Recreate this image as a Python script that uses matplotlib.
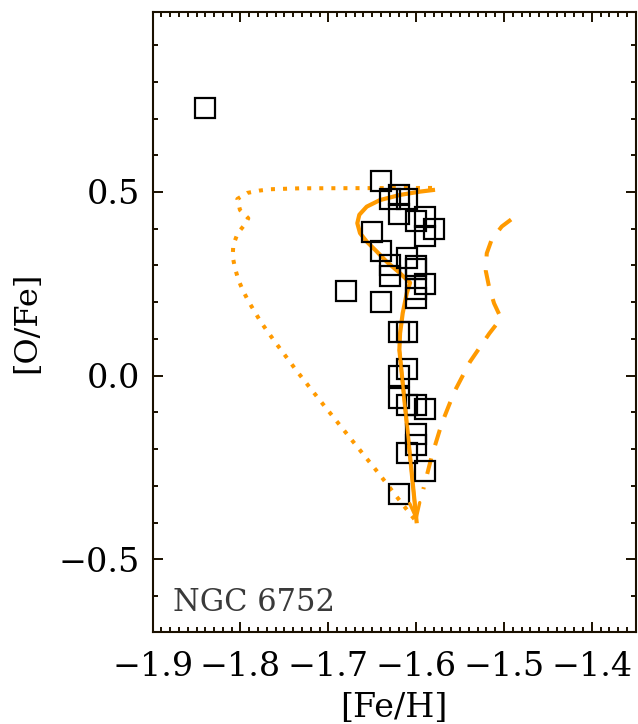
import numpy as np
import matplotlib
matplotlib.use('Agg')
import matplotlib.pyplot as plt
from matplotlib.ticker import MultipleLocator

# observed stars, NGC 6752
feh_obs = [-1.840, -1.640, -1.630, -1.620, -1.610, -1.620, -1.600, -1.590, -1.580,
           -1.590, -1.650, -1.640, -1.630, -1.630, -1.610, -1.600, -1.600, -1.590,
           -1.600, -1.600, -1.680, -1.640, -1.620, -1.610, -1.610, -1.620, -1.620,
           -1.610, -1.600, -1.590, -1.600, -1.600, -1.610, -1.590, -1.620]
ofe_obs = [0.730, 0.530, 0.481, 0.491, 0.481, 0.439, 0.420, 0.431, 0.399,
           0.380, 0.390, 0.340, 0.300, 0.270, 0.320, 0.299, 0.289, 0.250,
           0.236, 0.211, 0.230, 0.200, 0.120, 0.120, 0.019, 0.000, -0.060,
           -0.081, -0.080, -0.090, -0.160, -0.190, -0.211, -0.260, -0.321]

# model tracks
feh_solid = [-1.5785, -1.5956, -1.6184, -1.6412, -1.6563, -1.6647, -1.6670, -1.6639,
             -1.6563, -1.6449, -1.6335, -1.6203, -1.6069, -1.6107, -1.6153, -1.6183,
             -1.6191, -1.5993]
ofe_solid = [0.506, 0.501, 0.492, 0.478, 0.460, 0.438, 0.415, 0.388,
             0.365, 0.338, 0.310, 0.283, 0.253, 0.224, 0.170, 0.115,
             0.070, -0.402]

feh_dot = [-1.5819, -1.7322, -1.7656, -1.7789, -1.7923, -1.8036, -1.8006, -1.7911,
           -1.7949, -1.8032, -1.8082, -1.8089, -1.8063, -1.8025, -1.7972, -1.7907,
           -1.7767, -1.7607, -1.7360, -1.7106, -1.6764, -1.6419, -1.6164, -1.5993]
ofe_dot = [0.511, 0.510, 0.5075, 0.5037, 0.4974, 0.481, 0.451, 0.4285,
           0.412, 0.3877, 0.3558, 0.324, 0.2932, 0.2614, 0.2314, 0.2015,
           0.1454, 0.0918, 0.0128, -0.0643, -0.1661, -0.2684, -0.3474, -0.3991]

feh_dash = [-1.4919, -1.5025, -1.5139, -1.5196, -1.5207, -1.5170, -1.5113, -1.5033,
            -1.5166, -1.5386, -1.5565, -1.5708, -1.5822, -1.5918]
ofe_dash = [0.425, 0.406, 0.371, 0.333, 0.285, 0.242, 0.197, 0.156,
            0.115, 0.038, -0.044, -0.130, -0.219, -0.309]

orange = '#ff9a00'
dark = '#1a1000'

plt.rcParams['font.family'] = ['DejaVu Serif']
plt.rcParams['mathtext.fontset'] = 'dejavuserif'

fig = plt.figure(figsize=(6.38, 7.24), dpi=100)
ax = fig.add_axes([0.2393, 0.1271, 0.9964 - 0.2393, 0.9834 - 0.1271])

ax.plot(feh_dot, ofe_dot, color=orange, lw=2.9, dashes=(1, 2))
ax.plot(feh_dash, ofe_dash, color=orange, lw=2.9, dashes=(4.0, 3.4))
ax.plot(feh_solid, ofe_solid, color=orange, lw=3.0, solid_capstyle='butt')
# small open arrowhead at the end of the solid track
ax.annotate('', xy=(feh_solid[-1], ofe_solid[-1]), xytext=(feh_solid[-2], ofe_solid[-2]),
            arrowprops=dict(arrowstyle='->,head_length=0.6,head_width=0.2',
                            color=orange, lw=2.4, shrinkA=0, shrinkB=0,
                            mutation_scale=18))

ax.plot(feh_obs, ofe_obs, ls='none', marker='s', ms=14, mfc='none',
        mec='black', mew=1.6)

ax.text(-1.877, -0.64, 'NGC 6752', fontsize=22, color='#3a3a3a', va='baseline')

ax.set_xlim(-1.9, -1.35)
ax.set_ylim(-0.698, 0.99)
ax.xaxis.set_major_locator(MultipleLocator(0.1))
ax.xaxis.set_minor_locator(MultipleLocator(0.01))
ax.yaxis.set_major_locator(MultipleLocator(0.5))
ax.yaxis.set_minor_locator(MultipleLocator(0.1))
ax.tick_params(which='both', direction='in', top=True, right=True, color=dark,
               width=1.4, labelsize=24, labelcolor='black')
ax.tick_params(which='major', length=7.2)
ax.tick_params(which='minor', length=3.6)
ax.tick_params(axis='x', pad=14)
ax.tick_params(axis='y', pad=9)
for s in ax.spines.values():
    s.set_color(dark)
    s.set_linewidth(1.5)

ax.set_xlabel('[Fe/H]', fontsize=24, labelpad=6)
ax.set_ylabel('[O/Fe]', fontsize=23, labelpad=12)

fig.savefig('out.png', dpi=100)
